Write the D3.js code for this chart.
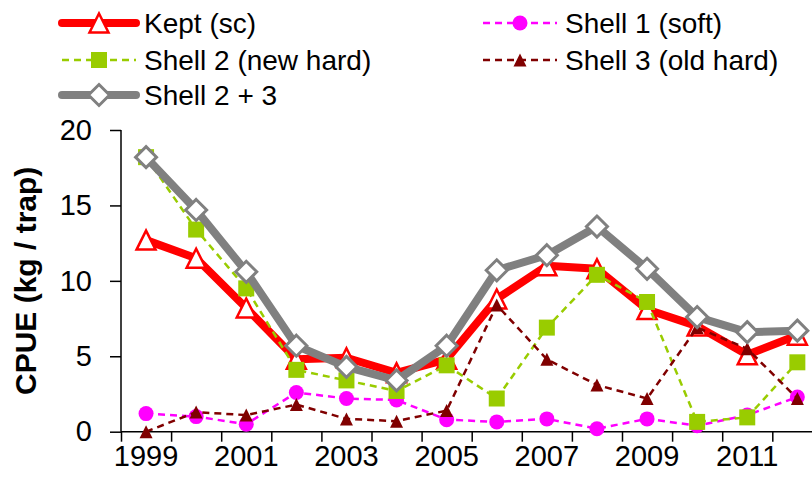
<!DOCTYPE html>
<html>
<head>
<meta charset="utf-8">
<script src="https://cdn.jsdelivr.net/npm/d3@7"></script>
<style>
  html, body { margin: 0; padding: 0; background: #fff; }
  svg { display: block; font-family: "Liberation Sans", Arial, sans-serif; }
</style>
</head>
<body>
<svg id="chart" width="812" height="485"></svg>
<script>
"use strict";

// Data
const years = [1999, 2000, 2001, 2002, 2003, 2004, 2005, 2006, 2007, 2008, 2009, 2010, 2011, 2012];
const kept = [12.7, 11.5, 8.2, 4.8, 4.9, 3.9, 4.8, 8.8, 11.0, 10.8, 8.1, 7.0, 5.1, 6.4];
const shell1 = [1.2, 1.0, 0.5, 2.6, 2.2, 2.1, 0.8, 0.65, 0.85, 0.2, 0.85, 0.4, 1.1, 2.3];
const shell2 = [18.2, 13.4, 9.5, 4.1, 3.4, 2.7, 4.4, 2.2, 6.9, 10.4, 8.6, 0.65, 0.95, 4.6];
const shell3 = [0.0, 1.3, 1.1, 1.8, 0.85, 0.7, 1.4, 8.4, 4.8, 3.1, 2.2, 6.9, 5.5, 2.2];
const shell23 = [18.2, 14.7, 10.6, 5.7, 4.3, 3.4, 5.7, 10.7, 11.7, 13.6, 10.8, 7.6, 6.6, 6.7];
const yTicks = [0, 5, 10, 15, 20];
const xLabels = [1999, 2001, 2003, 2005, 2007, 2009, 2011];

const series = [
  {name: 'Kept (sc)', values: kept, color: '#ff0000', width: 8, dash: null,
   marker: 'tri', msize: 19, fill: '#fff', mstroke: 2.5, legend: [0, 0]},
  {name: 'Shell 1 (soft)', values: shell1, color: '#ff00ff', width: 2.5, dash: '7,5',
   marker: 'circle', msize: 15, fill: '#ff00ff', mstroke: 0, legend: [1, 0]},
  {name: 'Shell 2 (new hard)', values: shell2, color: '#99cc00', width: 2.5, dash: '7,5',
   marker: 'square', msize: 16, fill: '#99cc00', mstroke: 0, legend: [0, 1]},
  {name: 'Shell 3 (old hard)', values: shell3, color: '#800000', width: 2.5, dash: '7,5',
   marker: 'tri', msize: 13, fill: '#800000', mstroke: 0, legend: [1, 1]},
  {name: 'Shell 2 + 3', values: shell23, color: '#808080', width: 8, dash: null,
   marker: 'diamond', msize: 21, fill: '#fff', mstroke: 3, legend: [0, 2]}
];

const svg = d3.select('#chart');

const plotLeft = 121, plotBottom = 431.7, plotTop = 130, step = 50.1;
const x = d3.scaleBand().domain(years).range([plotLeft, plotLeft + years.length * step]);
const xEdge = d3.scaleLinear().domain([0, years.length]).range([plotLeft, plotLeft + years.length * step]);
const y = d3.scaleLinear().domain([0, 20]).range([plotBottom, plotTop]);

function markerPath(type, s) {
  const h = s / 2;
  if (type === 'tri') return `M0,${-h}L${h},${h}L${-h},${h}Z`;
  if (type === 'square') return `M${-h},${-h}H${h}V${h}H${-h}Z`;
  if (type === 'diamond') return `M0,${-h}L${h},0L0,${h}L${-h},0Z`;
  return d3.symbol(d3.symbolCircle, Math.PI * h * h)();
}

// Axes
const yAxis = svg.append('g')
  .attr('transform', `translate(${plotLeft},0)`)
  .call(d3.axisLeft(y).tickValues(yTicks).tickSize(11).tickPadding(18));
yAxis.select('.domain').attr('d', `M0,${plotTop}V${plotBottom}`);

const xTicksG = svg.append('g')
  .attr('transform', `translate(0,${plotBottom})`)
  .call(d3.axisBottom(xEdge).tickValues(d3.range(years.length + 1)).tickSize(10).tickFormat(''));
xTicksG.select('.domain').attr('d', `M${plotLeft},0H${plotLeft + years.length * step}`);

const xLab = svg.append('g')
  .attr('transform', `translate(0,${plotBottom})`)
  .call(d3.axisBottom(x).tickValues(xLabels).tickSize(0).tickPadding(14));
xLab.select('.domain').remove();

svg.selectAll('.tick text').attr('font-size', 29).attr('fill', '#000')
  .attr('font-family', '"Liberation Sans", Arial, sans-serif');
svg.selectAll('.tick line, .domain').attr('stroke', '#000').attr('stroke-width', 1.5);

svg.append('text')
  .attr('transform', `translate(36,${(plotTop + plotBottom) / 2}) rotate(-90)`)
  .attr('text-anchor', 'middle')
  .attr('font-size', 30)
  .attr('font-weight', 'bold')
  .text('CPUE (kg / trap)');

// Series
const line = d3.line().x((d, i) => x(years[i]) + x.bandwidth() / 2).y(d => y(d));
for (const s of series) {
  const g = svg.append('g');
  g.append('path')
    .attr('d', line(s.values))
    .attr('fill', 'none')
    .attr('stroke', s.color)
    .attr('stroke-width', s.width)
    .attr('stroke-dasharray', s.dash)
    .attr('stroke-linejoin', 'round');
  g.selectAll('path.m').data(s.values).enter().append('path')
    .attr('class', 'm')
    .attr('d', markerPath(s.marker, s.msize))
    .attr('transform', (d, i) => `translate(${x(years[i]) + x.bandwidth() / 2},${y(d)})`)
    .attr('fill', s.fill)
    .attr('stroke', s.mstroke ? s.color : 'none')
    .attr('stroke-width', s.mstroke);
}

// Legend
const legX = [62, 483], legY = [23, 60, 95], legLen = 74;
for (const s of series) {
  const lx = legX[s.legend[0]], ly = legY[s.legend[1]];
  const g = svg.append('g').attr('transform', `translate(${lx},${ly})`);
  g.append('line')
    .attr('x1', 0).attr('x2', legLen)
    .attr('stroke', s.color)
    .attr('stroke-width', s.width)
    .attr('stroke-dasharray', s.dash)
    .attr('stroke-linecap', s.dash ? 'butt' : 'round');
  g.append('path')
    .attr('d', markerPath(s.marker, s.msize))
    .attr('transform', `translate(${legLen / 2},0)`)
    .attr('fill', s.fill)
    .attr('stroke', s.mstroke ? s.color : 'none')
    .attr('stroke-width', s.mstroke);
  g.append('text')
    .attr('x', legLen + 8).attr('y', 10)
    .attr('font-size', 28)
    .text(s.name);
}
</script>
</body>
</html>
